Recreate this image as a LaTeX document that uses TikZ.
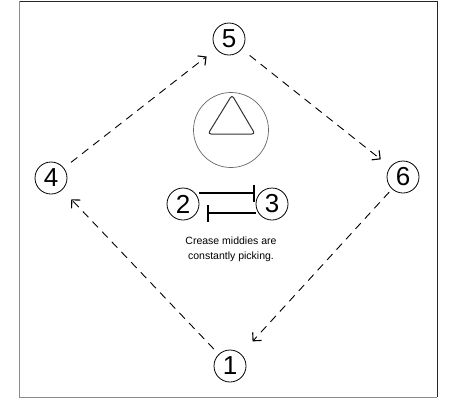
\documentclass[tikz,border=0pt]{standalone}
\usepackage{fontspec}
\setmainfont{Liberation Sans}
\usetikzlibrary{arrows.meta}
\begin{document}
\begin{tikzpicture}[x=1pt,y=-1pt,
  num/.style={circle,draw,line width=0.8pt,minimum size=32pt,inner sep=0pt,font=\fontsize{26}{26}\selectfont},
  run/.style={line width=0.9pt,dash pattern=on 8pt off 6pt,-{Straight Barb[length=6pt,width=12pt,line width=1.1pt]}},
  pick/.style={line width=1.4pt,-{Bar[width=17pt,line width=1.4pt]}}]
\useasboundingbox (0,0) rectangle (457,416);
% frame
\draw[line width=1pt,black!85] (19,1) -- (437,1) -- (437,397);
\draw[line width=1pt,black!45] (19,1) -- (19,397) -- (437,397);
% players
\node[num] (n1) at (230,366) {1};
\node[num] (n2) at (183,204) {2};
\node[num] (n3) at (272,204) {3};
\node[num] (n4) at (51,178) {4};
\node[num] (n5) at (229,39) {5};
\node[num] (n6) at (403,177) {6};
% crease
\node[circle,draw=black!60,line width=0.7pt,minimum size=75pt,inner sep=0pt] (crease) at (231,130) {};
\draw[black!80,line width=1pt,rounded corners=3pt] (232,95) -- (255,134) -- (208,134) -- cycle;
% picks
\draw[pick] ([yshift=11pt]n2.east) -- ([shift={(-1pt,11pt)}]n3.west);
\draw[pick] ([yshift=-9pt]n3.west) -- ([shift={(8pt,-9pt)}]n2.east);
\node[align=center,font=\fontsize{10.5}{15}\selectfont] (txt) at (231,249) {Crease middies are\\constantly picking.};
% runs
\draw[run,shorten <=7pt,shorten >=13pt] (n1) -- (n4);
\draw[run,shorten <=9pt,shorten >=12pt] (n4) -- (n5);
\draw[run,shorten <=10pt,shorten >=12pt] (n5) -- (n6);
\draw[run,shorten <=4pt,shorten >=17pt] (n6) -- (n1);
\end{tikzpicture}
\end{document}
